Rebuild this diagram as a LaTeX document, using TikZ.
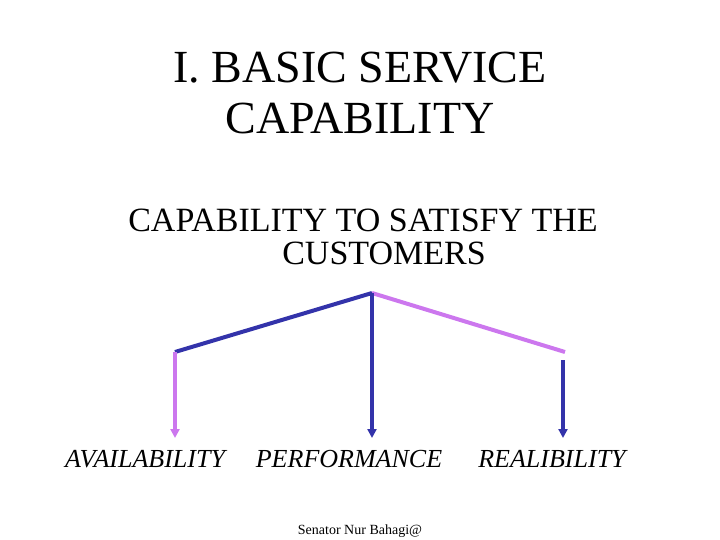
\documentclass[tikz,border=0pt]{standalone}
\usepackage{fontspec}
\setmainfont{Liberation Serif}
\usetikzlibrary{arrows.meta}
\definecolor{dblue}{RGB}{51,51,170}
\definecolor{viol}{RGB}{204,119,238}
\begin{document}
\begin{tikzpicture}[x=1pt,y=-1pt,
  lbl/.style={font=\fontsize{26}{30}\selectfont\itshape},
  ln/.style={line width=4pt},
  arr/.style={line width=3.2pt,-{Triangle[length=9pt,width=9pt]}}]
\useasboundingbox (0,0) rectangle (720,540);
\node[font=\fontsize{46}{50}\selectfont] (title1) at (360,68) {I. BASIC SERVICE};
\node[font=\fontsize{46}{50}\selectfont] (title2) at (360,118) {CAPABILITY};
\node[font=\fontsize{34}{40}\selectfont] (sub1) at (363,220) {CAPABILITY TO SATISFY THE};
\node[font=\fontsize{34}{40}\selectfont] (sub2) at (384,253) {CUSTOMERS};
\coordinate (l) at (175,352);
\coordinate (t) at (372,293);
\coordinate (r) at (565,352);
\coordinate (r2) at (563,360);
\node[lbl] (a) at (145,459) {AVAILABILITY};
\node[lbl] (p) at (349,459) {PERFORMANCE};
\node[lbl] (rel) at (552,459) {REALIBILITY};
\node[font=\fontsize{14}{16}\selectfont] (f) at (360,531) {Senator Nur Bahagi@};
\draw[ln,dblue] (l) -- (t);
\draw[ln,viol] (t) -- (r);
\draw[arr,viol] (l) -- (175,438);
\draw[arr,dblue] (t) -- (372,438);
\draw[arr,dblue] (r2) -- (563,438);
\end{tikzpicture}
\end{document}
